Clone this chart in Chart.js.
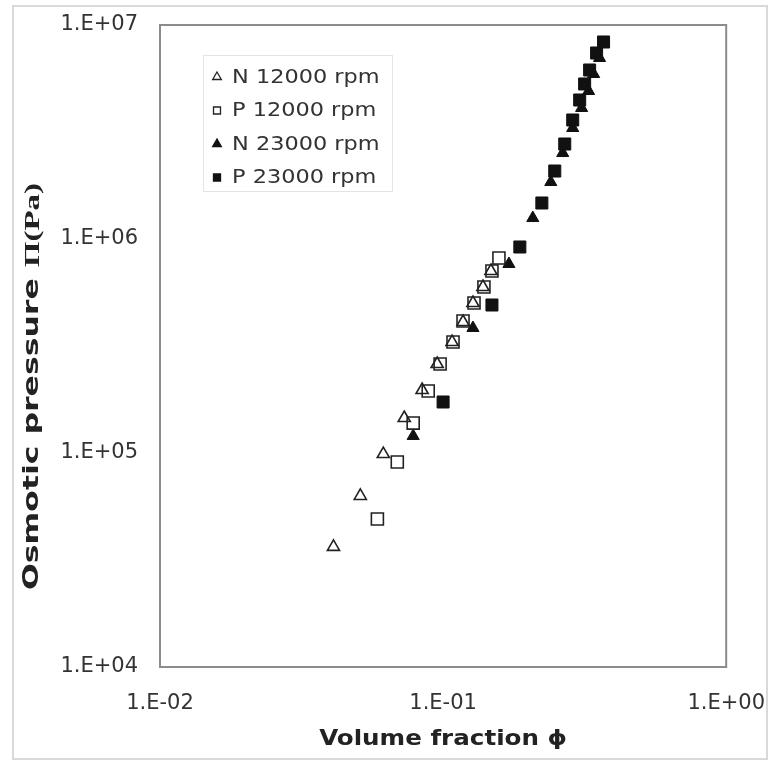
<!DOCTYPE html>
<html>
<head>
<meta charset="utf-8">
<script src="https://cdn.jsdelivr.net/npm/chart.js@4"></script>
<style>
  html, body { margin: 0; padding: 0; background: #fff; }
  canvas { display: block; }
</style>
</head>
<body>
<canvas id="chart" width="769" height="761"></canvas>
<script>
const seriesNames = ['N 12000 rpm', 'P 12000 rpm', 'N 23000 rpm', 'P 23000 rpm'];

const n12Phi = [0.0410, 0.0510, 0.0615, 0.0729, 0.0843, 0.0953, 0.1076, 0.1176, 0.1275, 0.1383, 0.1476];
const n12Pi  = [36400, 63000, 98900, 145700, 197000, 260600, 330000, 409400, 502300, 596500, 708800];

const p12Phi = [0.0586, 0.0689, 0.0784, 0.0886, 0.0976, 0.1084, 0.1176, 0.1286, 0.1394, 0.1488, 0.1575];
const p12Pi  = [49150, 90800, 138000, 194800, 260600, 330000, 413800, 502300, 596500, 708800, 815000];

const n23Phi = [0.0784, 0.1275, 0.1708, 0.2074, 0.2401, 0.2646, 0.2870, 0.3086, 0.3266, 0.3402, 0.3570];
const n23Pi  = [120100, 383800, 764300, 1253000, 1846000, 2522000, 3301000, 4094000, 4916000, 5902000, 7012000];

const p23Phi = [0.1000, 0.1488, 0.1867, 0.2233, 0.2480, 0.2690, 0.2870, 0.3037, 0.3162, 0.3293, 0.3485, 0.3688];
const p23Pi  = [173100, 491600, 917600, 1473000, 2078000, 2779000, 3598000, 4462000, 5302000, 6162000, 7398000, 8329000];

const xTicks = [0.01, 0.1, 1];
const xTickLabels = ['1.E-02', '1.E-01', '1.E+00'];
const yTicks = [1e4, 1e5, 1e6, 1e7];
const yTickLabels = ['1.E+04', '1.E+05', '1.E+06', '1.E+07'];

const xTitle = 'Volume fraction \u03D5';
const yTitle = 'Osmotic pressure ';
const yTitleUnit = '\u03A0(Pa)';

const pts = (xs, ys) => xs.map((x, i) => ({ x: x, y: ys[i] }));

const INK = '#222';
const TEXT = '#333';

// frame round the whole picture and the plot box
const framePlugin = {
  id: 'frame',
  beforeDraw(chart) {
    const ctx = chart.ctx;
    ctx.save();
    ctx.strokeStyle = '#d9d9d9';
    ctx.lineWidth = 2;
    ctx.strokeRect(13, 6, chart.width - 13 - 2, chart.height - 6 - 2);
    ctx.restore();
  },
  afterDatasetsDraw(chart) {
    const a = chart.chartArea;
    const ctx = chart.ctx;
    ctx.save();
    ctx.strokeStyle = '#8c8c8c';
    ctx.lineWidth = 2;
    ctx.strokeRect(a.left, a.top, a.right - a.left, a.bottom - a.top);
    ctx.restore();
  }
};

// axis titles, drawn a bit stretched like the original
const titlePlugin = {
  id: 'axisTitles',
  afterDraw(chart) {
    const ctx = chart.ctx;
    const a = chart.chartArea;
    ctx.save();
    ctx.fillStyle = '#222';
    ctx.textBaseline = 'middle';
    ctx.translate((a.left + a.right) / 2, 740);
    ctx.scale(1.17, 1);
    ctx.font = 'bold 21px "DejaVu Sans"';
    ctx.textAlign = 'center';
    ctx.fillText(xTitle, 0, 0);
    ctx.restore();

    ctx.save();
    ctx.fillStyle = '#222';
    ctx.textBaseline = 'middle';
    ctx.textAlign = 'left';
    ctx.translate(33, 590);
    ctx.rotate(-Math.PI / 2);
    ctx.scale(1.5, 1);
    ctx.font = 'bold 21px "DejaVu Sans"';
    ctx.fillText(yTitle, 0, 0);
    const w = ctx.measureText(yTitle).width;
    ctx.font = 'bold 22px "Liberation Serif"';
    ctx.fillText(yTitleUnit, w, 0);
    ctx.restore();
  }
};

// legend box inside the plot, top left
const legendPlugin = {
  id: 'innerLegend',
  afterDraw(chart) {
    const ctx = chart.ctx;
    const box = { x: 203, y: 55, w: 189, h: 136 };
    ctx.save();
    ctx.fillStyle = '#fff';
    ctx.fillRect(box.x, box.y, box.w, box.h);
    ctx.strokeStyle = '#e4e4e4';
    ctx.lineWidth = 1;
    ctx.strokeRect(box.x + 0.5, box.y + 0.5, box.w, box.h);
    ctx.textBaseline = 'middle';
    chart.data.datasets.forEach((ds, i) => {
      const cy = box.y + 22 + i * 33.5;
      const cx = box.x + 14;
      ctx.beginPath();
      if (ds.pointStyle === 'triangle') {
        const r = 5;
        ctx.moveTo(cx, cy - r);
        ctx.lineTo(cx + r * 0.866, cy + r / 2);
        ctx.lineTo(cx - r * 0.866, cy + r / 2);
        ctx.closePath();
      } else {
        ctx.rect(cx - 3.5, cy - 3.5, 7, 7);
      }
      ctx.fillStyle = ds.backgroundColor;
      ctx.fill();
      ctx.strokeStyle = ds.borderColor;
      ctx.lineWidth = 1.3;
      ctx.stroke();
      ctx.save();
      ctx.translate(box.x + 29, cy + 1);
      ctx.scale(1.18, 1);
      ctx.font = '19px "DejaVu Sans"';
      ctx.fillStyle = TEXT;
      ctx.fillText(ds.label, 0, 0);
      ctx.restore();
    });
    ctx.restore();
  }
};

new Chart(document.getElementById('chart'), {
  type: 'scatter',
  data: {
    datasets: [
      { label: seriesNames[0], data: pts(n12Phi, n12Pi), pointStyle: 'triangle', pointRadius: 7,
        backgroundColor: 'rgba(0,0,0,0)', borderColor: INK, borderWidth: 1.6 },
      { label: seriesNames[1], data: pts(p12Phi, p12Pi), pointStyle: 'rect', pointRadius: 8.5,
        backgroundColor: 'rgba(0,0,0,0)', borderColor: INK, borderWidth: 1.6 },
      { label: seriesNames[2], data: pts(n23Phi, n23Pi), pointStyle: 'triangle', pointRadius: 7,
        backgroundColor: '#111', borderColor: '#111', borderWidth: 1 },
      { label: seriesNames[3], data: pts(p23Phi, p23Pi), pointStyle: 'rect', pointRadius: 8.5,
        backgroundColor: '#111', borderColor: '#111', borderWidth: 1 }
    ]
  },
  options: {
    responsive: false,
    devicePixelRatio: 1,
    animation: false,
    layout: { padding: { left: 13, top: 25, right: 42, bottom: 0 } },
    plugins: {
      legend: { display: false },
      tooltip: { enabled: false }
    },
    scales: {
      x: {
        type: 'logarithmic',
        min: 0.01,
        max: 1,
        grid: { display: false, drawTicks: true, tickLength: 20 },
        border: { display: false },
        afterBuildTicks: s => { s.ticks = xTicks.map(v => ({ value: v })); },
        afterFit: s => { s.height = 94; },
        ticks: {
          padding: 4,
          color: TEXT,
          font: { family: 'DejaVu Sans', size: 21 },
          maxRotation: 0,
          callback: (v, i) => xTickLabels[i]
        }
      },
      y: {
        type: 'logarithmic',
        min: 1e4,
        max: 1e7,
        grid: { display: false, drawTicks: true, tickLength: 18 },
        border: { display: false },
        afterBuildTicks: s => { s.ticks = yTicks.map(v => ({ value: v })); },
        afterFit: s => { s.width = 147; },
        ticks: {
          padding: 4,
          color: TEXT,
          font: { family: 'DejaVu Sans', size: 21 },
          callback: (v, i) => yTickLabels[i]
        }
      }
    }
  },
  plugins: [framePlugin, titlePlugin, legendPlugin]
});
</script>
</body>
</html>
